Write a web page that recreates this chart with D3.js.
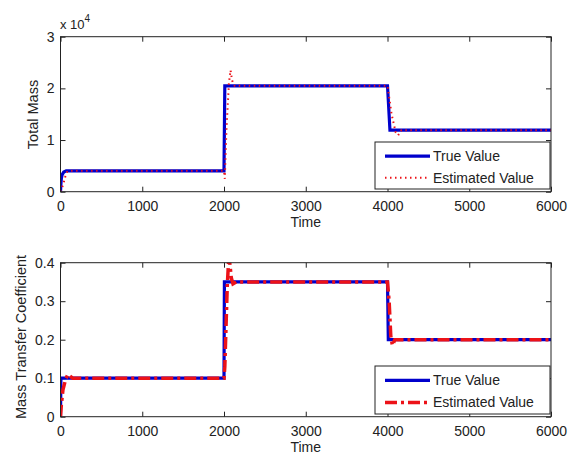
<!DOCTYPE html>
<html><head><meta charset="utf-8">
<script src="https://cdn.jsdelivr.net/npm/d3@7"></script>
<style>body{margin:0;background:#fff}svg{display:block}text{font-family:"Liberation Sans",Arial,sans-serif;fill:#222}</style>
</head><body><div id="c"></div>
<script>
// ---- data ----
const xTicks = [0,1000,2000,3000,4000,5000,6000];
const massTicks = [0,1,2,3];            // x 10^4
const coefTicks = [0,0.1,0.2,0.3,0.4];

const tTrueMass = [0,5,10,20,40,70,2000,2010,4000,4030,6000];
const trueMass  = [0,1500,2500,3300,3800,4050,4050,20500,20500,11900,11900];
const tEstMass  = [0,20,40,60,80,120,2000,2010,2030,2060,2080,2100,2130,4000,4050,4100,4130,4170,6000];
const estMass   = [0,800,1800,3000,3800,4050,4050,2500,12000,21000,23500,21500,20500,20500,15000,11500,10900,11900,11900];

const tTrueCoef = [0,5,2000,2005,4000,4010,6000];
const trueCoef  = [0,0.1,0.1,0.35,0.35,0.2,0.2];
const tEstCoef  = [0,10,30,60,90,150,2000,2010,2040,2060,2090,2110,2150,4000,4020,4040,4060,4090,6000];
const estCoef   = [0,0.03,0.07,0.095,0.11,0.1,0.1,0.13,0.34,0.42,0.36,0.345,0.35,0.35,0.3,0.21,0.185,0.2,0.2];

const legendLabels = ["True Value","Estimated Value"];

// ---- drawing ----
const W=568,H=454;
const svg=d3.select("#c").append("svg").attr("width",W).attr("height",H);
const BLUE="#0000cc", RED="#ec1218";

function panel(o){
  const g=svg.append("g");
  const x=d3.scaleLinear().domain([0,6000]).range([o.left,o.right]);
  const y=d3.scaleLinear().domain(o.ydom).range([o.bottom,o.top]);
  const cid="clip"+o.id;
  svg.append("clipPath").attr("id",cid).append("rect")
    .attr("x",o.left).attr("y",o.top).attr("width",o.right-o.left).attr("height",o.bottom-o.top);
  const fs="14px";
  const ax=g.append("g").attr("transform",`translate(0,${o.bottom})`)
    .call(d3.axisBottom(x).tickValues(xTicks).tickSizeInner(-5).tickSizeOuter(0).tickPadding(9).tickFormat(d3.format("d")));
  const axT=g.append("g").attr("transform",`translate(0,${o.top})`)
    .call(d3.axisTop(x).tickValues(xTicks).tickSizeInner(-5).tickSizeOuter(0).tickFormat(""));
  const ay=g.append("g").attr("transform",`translate(${o.left},0)`)
    .call(d3.axisLeft(y).tickValues(o.yticks).tickSizeInner(-5).tickSizeOuter(0).tickPadding(6).tickFormat(o.yfmt));
  const ayR=g.append("g").attr("transform",`translate(${o.right},0)`)
    .call(d3.axisRight(y).tickValues(o.yticks).tickSizeInner(-5).tickSizeOuter(0).tickFormat(""));
  [ax,axT,ay,ayR].forEach(a=>{a.select(".domain").remove();a.selectAll("line").attr("stroke","#222");a.selectAll("text").style("font-size",fs).attr("fill","#222")});
  const line=d3.line().x(d=>x(d[0])).y(d=>y(d[1]));
  const tv=o.tTrue.map((t,i)=>[t,o.vTrue[i]]);
  const ev=o.tEst.map((t,i)=>[t,o.vEst[i]]);
  const lg=g.append("g").attr("clip-path",`url(#${cid})`);
  lg.append("path").attr("d",line(tv)).attr("fill","none").attr("stroke",BLUE).attr("stroke-width",3.2);
  lg.append("path").attr("d",line(ev)).attr("fill","none").attr("stroke",RED)
    .attr("stroke-width",o.estW).attr("stroke-dasharray",o.dash);
  g.append("rect").attr("x",o.left).attr("y",o.top).attr("width",o.right-o.left).attr("height",o.bottom-o.top)
    .attr("fill","none").attr("stroke","#222").attr("stroke-width",1);
  g.append("text").attr("x",(o.left+o.right)/2).attr("y",o.bottom+35).attr("text-anchor","middle").style("font-size","14px").text("Time");
  g.append("text").attr("transform",`translate(${o.ylabX},${o.ylabY}) rotate(-90)`).attr("text-anchor","middle").style("font-size","14.5px").text(o.ylabel);
  const L=o.leg;
  g.append("rect").attr("x",L.x).attr("y",L.y).attr("width",L.w).attr("height",L.h).attr("fill","#fff").attr("stroke","#222");
  const rows=[L.y+L.h*0.3,L.y+L.h*0.76];
  g.append("line").attr("x1",L.x+10).attr("x2",L.x+55).attr("y1",rows[0]).attr("y2",rows[0]).attr("stroke",BLUE).attr("stroke-width",3.2);
  g.append("line").attr("x1",L.x+10).attr("x2",L.x+55).attr("y1",rows[1]).attr("y2",rows[1]).attr("stroke",RED).attr("stroke-width",o.estW).attr("stroke-dasharray",o.dash);
  legendLabels.forEach((s,i)=>g.append("text").attr("x",L.x+58).attr("y",rows[i]+5).style("font-size","14px").text(s));
  return g;
}

panel({id:1,left:60.5,right:551,top:36.7,bottom:191.7,ydom:[0,30000],yticks:massTicks.map(d=>d*1e4),
  yfmt:d=>String(d/1e4),tTrue:tTrueMass,vTrue:trueMass,tEst:tEstMass,vEst:estMass,estW:2,dash:"1.5,3.5",
  ylabel:"Total Mass",ylabX:38,ylabY:114.5,leg:{x:375,y:142,w:175,h:47}});
panel({id:2,left:60.5,right:551,top:262.7,bottom:416.7,ydom:[0,0.4],yticks:coefTicks,
  yfmt:d=>d===0?"0":d3.format(".1f")(d),tTrue:tTrueCoef,vTrue:trueCoef,tEst:tEstCoef,vEst:estCoef,estW:3.5,dash:"12,4,3,4",
  ylabel:"Mass Transfer Coefficient",ylabX:26,ylabY:337,leg:{x:375,y:366,w:175,h:48}});

const ex=svg.append("text").attr("x",60).attr("y",29).style("font-size","13px");
ex.append("tspan").text("x 10");
ex.append("tspan").attr("dy",-7).style("font-size","10px").text("4");
</script></body></html>
